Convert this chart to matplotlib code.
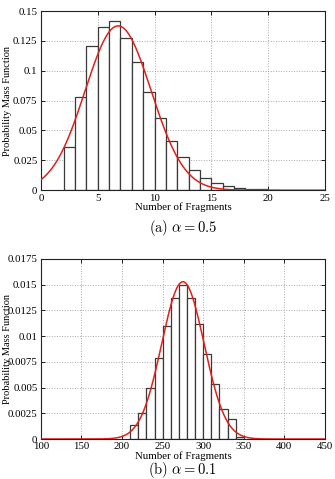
import matplotlib
matplotlib.use('Agg')
import matplotlib.pyplot as plt
import numpy as np
from matplotlib.ticker import FormatStrFormatter

# Data
# (a) alpha = 0.5, bins of width 1
a_edges_left = [2, 3, 4, 5, 6, 7, 8, 9, 10, 11, 12, 13, 14, 15, 16, 17, 18, 19, 20]
a_pmf = [0.036, 0.078, 0.121, 0.137, 0.142, 0.127, 0.107, 0.0825, 0.0605, 0.0413,
         0.0276, 0.0167, 0.0106, 0.0059, 0.0033, 0.0020, 0.0011, 0.0008, 0.0003]
a_fit_mean, a_fit_std = 6.8, 2.90

# (b) alpha = 0.1, bins of width 10
b_edges_left = [210, 220, 230, 240, 250, 260, 270, 280, 290, 300, 310, 320, 330, 340]
b_pmf = [0.0014, 0.00256, 0.00493, 0.00788, 0.01095, 0.01374, 0.0150, 0.01374,
         0.01115, 0.00823, 0.00531, 0.00295, 0.00198, 0.00016]
b_fit_mean, b_fit_std = 275.0, 26.1

plt.rcParams.update({
    'font.family': 'Liberation Serif',
    'font.size': 7.5,
    'mathtext.fontset': 'cm',
    'xtick.direction': 'in',
    'ytick.direction': 'in',
    'xtick.top': True,
    'ytick.right': True,
})


def normal_pdf(x, mu, sd):
    return np.exp(-0.5 * ((x - mu) / sd) ** 2) / (sd * np.sqrt(2 * np.pi))


fig = plt.figure(figsize=(3.35, 4.79), dpi=100)
ax1 = fig.add_axes([0.122, 0.603, 0.848, 0.374])
ax2 = fig.add_axes([0.122, 0.0835, 0.848, 0.376])

panels = [
    (ax1, a_edges_left, a_pmf, 1, a_fit_mean, a_fit_std, (0, 25), 5, (0, 0.15), 0.025,
     r'$\mathrm{(a)}\ \alpha = 0.5$', 228),
    (ax2, b_edges_left, b_pmf, 10, b_fit_mean, b_fit_std, (100, 450), 50, (0, 0.0175), 0.0025,
     r'$\mathrm{(b)}\ \alpha = 0.1$', 470),
]

for ax, left, pmf, w, mu, sd, xlim, xstep, ylim, ystep, cap, cap_y in panels:
    ax.bar(left, pmf, width=w, align='edge', facecolor='white',
           edgecolor='#3a3a3a', linewidth=0.9, zorder=2)
    xs = np.linspace(xlim[0], xlim[1], 500)
    ax.plot(xs, normal_pdf(xs, mu, sd), color='#e0201b', linewidth=1.1, zorder=3)
    ax.set_xlim(*xlim)
    ax.set_ylim(*ylim)
    ax.set_xticks(np.arange(xlim[0], xlim[1] + 1e-9, xstep))
    ax.set_yticks(np.arange(0, ylim[1] + 1e-12, ystep))
    ax.yaxis.set_major_formatter(FormatStrFormatter('%g'))
    ax.xaxis.set_major_formatter(FormatStrFormatter('%g'))
    ax.grid(True, linestyle=':', color='#a8a8a8', linewidth=0.7, zorder=0)
    ax.set_axisbelow(True)
    ax.tick_params(length=3, width=0.6, pad=2.5, labelsize=7.8)
    for s in ax.spines.values():
        s.set_linewidth(0.8)
        s.set_color('#222222')
    ax.set_xlabel('Number of Fragments', fontsize=7.8, labelpad=0)
    ax.set_ylabel('Probability Mass Function', fontsize=7.5)
    ax.yaxis.set_label_coords(-0.1, 0.5)
    fig.text(0.546, 1 - cap_y / 479, cap, ha='center', va='center', fontsize=10.5)

fig.savefig('out.png', dpi=100)
